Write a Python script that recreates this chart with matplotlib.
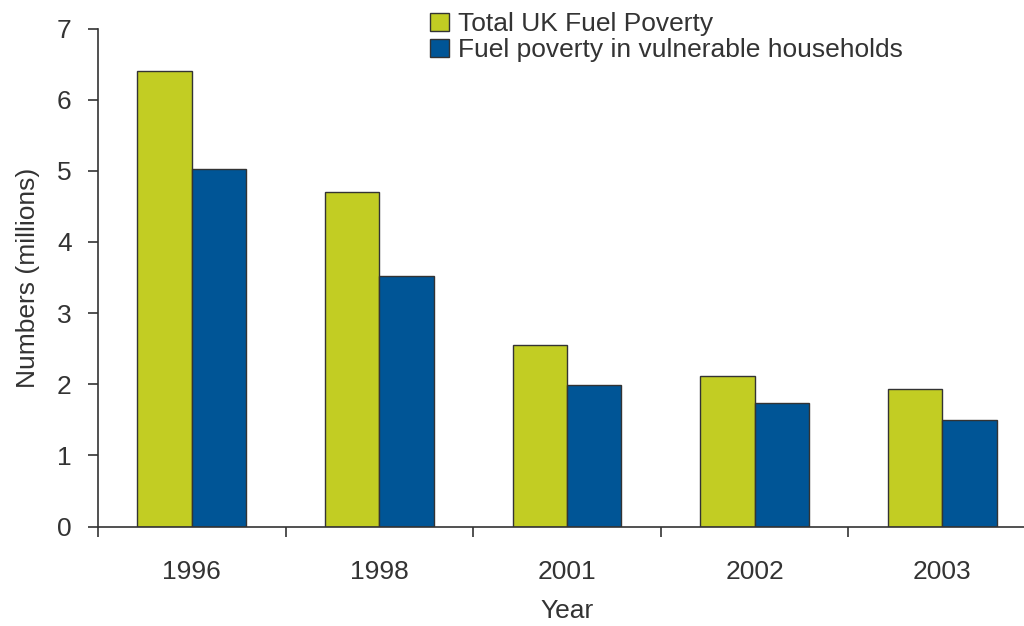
import matplotlib
matplotlib.use("Agg")
import matplotlib.pyplot as plt
import numpy as np
from matplotlib.ticker import FixedLocator

years = ["1996", "1998", "2001", "2002", "2003"]
total_uk = [6.4, 4.7, 2.55, 2.11, 1.93]
vulnerable = [5.03, 3.52, 1.99, 1.74, 1.49]
series_names = ["Total UK Fuel Poverty", "Fuel poverty in vulnerable households"]

GREEN = "#C2CD23"
BLUE = "#005596"
EDGE = "#333333"
TXT = "#333333"
FS = 19

plt.rcParams['font.family'] = ['Liberation Sans', 'DejaVu Sans']

fig = plt.figure(figsize=(10.24, 6.26), dpi=100)
ax = fig.add_axes([98/1024, 99.5/626, 938/1024, 498/626])

x = np.arange(len(years)) + 0.5
w = 0.29
ax.bar(x - w/2, total_uk, width=w, color=GREEN, edgecolor=EDGE, linewidth=1.0, label=series_names[0])
ax.bar(x + w/2, vulnerable, width=w, color=BLUE, edgecolor=EDGE, linewidth=1.0, label=series_names[1])

ax.set_xlim(0, len(years))
ax.set_ylim(0, 7)
ax.set_yticks(range(0, 8))
ax.set_xticks(x)
ax.set_xticklabels(years)
ax.xaxis.set_minor_locator(FixedLocator(np.arange(0, len(years))))
ax.tick_params(axis='x', which='major', length=0, pad=24, labelsize=FS, labelcolor=TXT)
ax.tick_params(axis='x', which='minor', length=7, width=1.2, color=EDGE, direction='out')
ax.tick_params(axis='y', length=7, width=1.2, color=EDGE, pad=12, labelsize=FS, labelcolor=TXT)

for s in ['top', 'right']:
    ax.spines[s].set_visible(False)
for s in ['left', 'bottom']:
    ax.spines[s].set_color(EDGE)
    ax.spines[s].set_linewidth(1.2)

ax.set_ylabel("Numbers (millions)", fontsize=FS, color=TXT, labelpad=12)
ax.set_xlabel("Year", fontsize=FS, color=TXT, labelpad=11)

leg = fig.legend(loc='upper left', bbox_to_anchor=(412/1024, 1 + 6/626), frameon=False,
                 fontsize=FS, handlelength=0.7, handleheight=0.7, handletextpad=0.35,
                 labelspacing=0.06, borderpad=0.2)
for t in leg.get_texts():
    t.set_color(TXT)

fig.savefig("out.png", dpi=100)
